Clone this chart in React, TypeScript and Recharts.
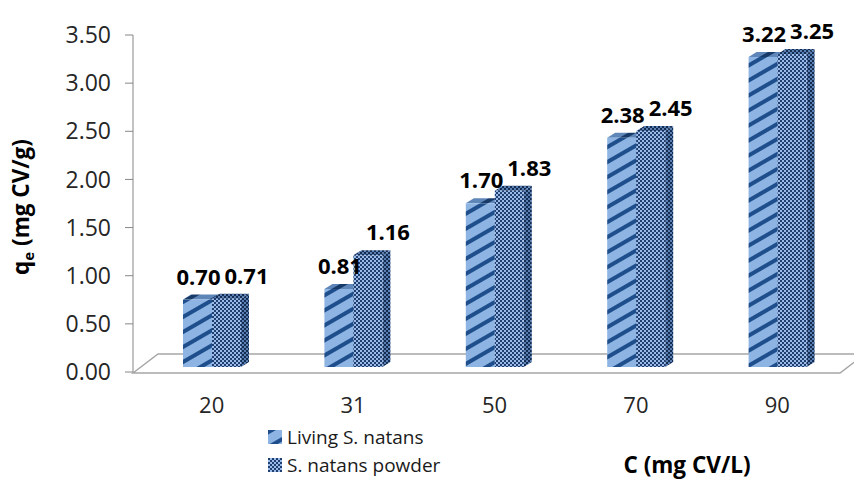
import { BarChart, Bar, XAxis, YAxis, Legend, LabelList } from 'recharts';

// data
const categories = ['20', '31', '50', '70', '90'];
const livingValues = [0.7, 0.81, 1.7, 2.38, 3.22];
const powderValues = [0.71, 1.16, 1.83, 2.45, 3.25];
const yTicks = [0, 0.5, 1, 1.5, 2, 2.5, 3, 3.5];
const seriesNames = ['Living S. natans', 'S. natans powder'];

const data = categories.map((c, i) => ({
  c,
  living: livingValues[i],
  powder: powderValues[i],
}));

const W = 854;
const H = 479;
const MARGIN = { top: 35, right: 6, left: 0, bottom: 0 };
const Y_AXIS_W = 133;
const X_AXIS_H = 107;
const FONT = '"Open Sans", "Liberation Sans", sans-serif';

const PLOT_LEFT = MARGIN.left + Y_AXIS_W;
const PLOT_RIGHT = W - MARGIN.right;
const PLOT_BOTTOM = H - X_AXIS_H;

// 3d depth of the boxes, boxes sit a bit back on the floor
const DX = 8;
const DY = 5;
const LIFT = 5;

function Box3D(props: any) {
  const { x, width, front, side, top } = props;
  const y = props.y - LIFT;
  const height = props.height;
  if (!height || height <= 0) return null;
  return (
    <g>
      <polygon
        points={`${x + width},${y} ${x + width + DX},${y - DY} ${x + width + DX},${y + height - DY} ${x + width},${y + height}`}
        fill={side}
      />
      <polygon
        points={`${x},${y} ${x + DX},${y - DY} ${x + width + DX},${y - DY} ${x + width},${y}`}
        fill={top}
      />
      <rect x={x} y={y} width={width} height={height} fill={front} />
    </g>
  );
}

function valueLabel(shift: number) {
  return (p: any) => (
    <text
      x={p.x + p.width / 2 + shift}
      y={p.y - 20}
      textAnchor="middle"
      fontFamily={FONT}
      fontWeight={700}
      fontSize={22}
      fill="#000"
    >
      {Number(p.value).toFixed(2)}
    </text>
  );
}

const swatches = ['url(#livingFront)', 'url(#powderFront)'];

function LegendBox() {
  return (
    <div style={{ fontFamily: FONT, fontSize: 19, color: '#1a1a1a', lineHeight: '28px' }}>
      {seriesNames.map((n, i) => (
        <div key={n} style={{ display: 'flex', alignItems: 'center' }}>
          <svg width={14} height={14} style={{ marginRight: 5 }}>
            <rect width={14} height={14} fill={swatches[i]} />
          </svg>
          {n}
        </div>
      ))}
    </div>
  );
}

export default function App() {
  return (
    <div style={{ position: 'absolute', left: 0, top: 0, width: W, height: H, background: '#fff' }}>
      <svg width={W} height={H} style={{ position: 'absolute', left: 0, top: 0 }}>
        <defs>
          <pattern id="livingFront" patternUnits="userSpaceOnUse" width="14" height="13" patternTransform="rotate(-30)">
            <rect width="14" height="13" fill="#8db4e2" />
            <rect width="14" height="4" fill="#1f4e8c" />
          </pattern>
          <pattern id="livingSide" patternUnits="userSpaceOnUse" width="14" height="13" patternTransform="rotate(-30)">
            <rect width="14" height="13" fill="#5f86b8" />
            <rect width="14" height="4" fill="#173a68" />
          </pattern>
          <pattern id="powderFront" patternUnits="userSpaceOnUse" width="4" height="4">
            <rect width="4" height="4" fill="#9bbbe6" />
            <rect width="2" height="2" fill="#1f3f73" />
            <rect x="2" y="2" width="2" height="2" fill="#1f3f73" />
          </pattern>
          <pattern id="powderSide" patternUnits="userSpaceOnUse" width="4" height="4">
            <rect width="4" height="4" fill="#5a7fb3" />
            <rect width="2" height="2" fill="#152c52" />
            <rect x="2" y="2" width="2" height="2" fill="#152c52" />
          </pattern>
        </defs>
        {/* floor */}
        <polygon
          points={`${PLOT_LEFT},${PLOT_BOTTOM + 1} ${PLOT_LEFT + 25},${PLOT_BOTTOM - 18} ${PLOT_RIGHT + 17},${PLOT_BOTTOM - 18} ${PLOT_RIGHT - 8},${PLOT_BOTTOM + 1}`}
          fill="#fff"
          stroke="#a6a6a6"
          strokeWidth={1.5}
        />
        <text
          transform={`translate(29, 207) rotate(-90)`}
          textAnchor="middle"
          fontFamily={FONT}
          fontWeight={700}
          fontSize={22.5}
          fill="#000"
        >
          q<tspan fontSize={15} dy={5}>e</tspan>
          <tspan dy={-5}> (mg CV/g)</tspan>
        </text>
        <text x={687} y={473} textAnchor="middle" fontFamily={FONT} fontWeight={700} fontSize={22.5} fill="#000">
          C (mg CV/L)
        </text>
      </svg>
      <div style={{ position: 'absolute', left: 0, top: 0 }}>
        <BarChart width={W} height={H} data={data} margin={MARGIN} barSize={29} barGap={0}>
          <XAxis
            dataKey="c"
            height={X_AXIS_H}
            axisLine={false}
            tickLine={false}
            tickSize={0}
            tickMargin={25}
            padding={{ left: 8, right: 0 }}
            tick={{ fill: '#262626', fontSize: 22, fontFamily: FONT }}
            interval={0}
          />
          <YAxis
            width={Y_AXIS_W}
            domain={[0, 3.5]}
            ticks={yTicks}
            tickFormatter={(v: number) => v.toFixed(2)}
            stroke="#868686"
            tickSize={8}
            tickMargin={14}
            tick={{ fill: '#262626', fontSize: 23, fontFamily: FONT }}
          />
          <Legend
            layout="vertical"
            align="center"
            verticalAlign="middle"
            wrapperStyle={{ left: 268, top: 423, width: 220 }}
            content={() => <LegendBox />}
          />
          <Bar
            dataKey="living"
            name={seriesNames[0]}
            isAnimationActive={false}
            shape={(p: any) => <Box3D {...p} front="url(#livingFront)" side="url(#livingSide)" top="url(#livingSide)" />}
          >
            <LabelList dataKey="living" content={valueLabel(1)} />
          </Bar>
          <Bar
            dataKey="powder"
            name={seriesNames[1]}
            isAnimationActive={false}
            shape={(p: any) => <Box3D {...p} front="url(#powderFront)" side="url(#powderSide)" top="url(#powderSide)" />}
          >
            <LabelList dataKey="powder" content={valueLabel(20)} />
          </Bar>
        </BarChart>
      </div>
    </div>
  );
}
